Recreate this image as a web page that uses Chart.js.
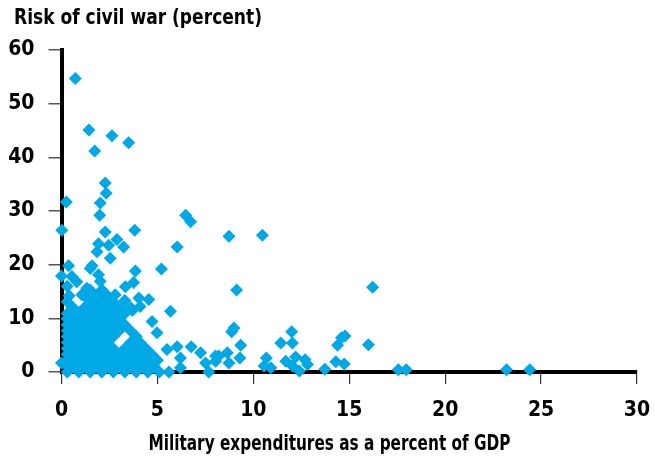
<!DOCTYPE html>
<html>
<head>
<meta charset="utf-8">
<script src="https://cdn.jsdelivr.net/npm/chart.js@4.4.0/dist/chart.umd.min.js"></script>
<style>
  body { margin: 0; background: #fff; }
  #wrap { width: 655px; height: 456px; position: relative; }
</style>
</head>
<body>
<div id="wrap"><canvas id="graficoGuerra"></canvas></div>
<script>
// puntos dispersos (gasto militar % PIB, riesgo %)
const scatterX = [0.72, 1.43, 2.63, 1.73, 3.5, 2.28, 2.33, 2.02, 0.25, 1.99, 6.47, 6.73, 0.02, 3.82, 2.28,
  8.73, 10.47, 2.89, 1.93, 2.46, 3.24, 6.03, 1.85, 2.54, 0.37, 1.59, 1.5, 0.0, 3.85, 5.21, 0.54, 1.93, 2.02,
  0.8, 3.76, 3.33, 2.11, 1.32, 9.13, 16.22, 1.06, 2.8, 4.03, 4.55, 5.68, 4.72, 4.98, 8.99, 8.87, 12.0, 11.43,
  12.04, 14.78, 14.6, 14.39, 16.0, 9.34, 6.76, 6.03, 5.5, 7.25, 8.03, 8.2, 8.64, 8.03, 8.73, 7.51, 7.68, 9.3,
  10.68, 10.56, 10.91, 11.69, 12.2, 12.7, 12.04, 12.4, 12.82, 13.73, 14.3, 14.74, 6.2, 6.2, 17.56, 17.97,
  23.2, 24.41, 0.0];
const scatterY = [54.7, 45.1, 44.0, 41.2, 42.7, 35.2, 33.3, 31.5, 31.7, 29.2, 29.2, 28.0, 26.4, 26.4, 26.1,
  25.3, 25.5, 24.7, 23.9, 23.6, 23.3, 23.3, 22.4, 21.2, 19.8, 19.8, 19.3, 17.9, 18.8, 19.2, 17.8, 18.1, 16.9,
  16.8, 16.7, 15.9, 15.3, 15.6, 15.3, 15.8, 14.4, 14.4, 13.8, 13.5, 11.3, 9.4, 7.3, 8.2, 7.5, 7.5, 5.4,
  5.4, 6.7, 6.4, 5.0, 5.1, 5.0, 4.7, 4.7, 4.2, 3.6, 3.0, 3.0, 3.6, 2.0, 1.7, 1.7, 0.0, 2.6,
  2.6, 1.1, 0.8, 2.0, 2.8, 2.3, 1.1, 0.2, 1.4, 0.5, 1.9, 1.5, 2.6, 0.8, 0.4, 0.4,
  0.4, 0.4, 1.7];

// masa densa de puntos cerca del origen (estimada)
const clusterX = [0.3, 0.9, 1.5, 2.1, 2.7, 3.3, 3.9, 4.5, 5.1, 5.6,
  0.3, 0.6, 1.2, 1.8, 2.4, 3.0, 3.6, 4.2, 4.8,
  0.3, 0.9, 1.5, 2.1, 2.7, 3.3, 3.9, 4.5, 5.0,
  0.3, 0.6, 1.2, 1.8, 2.4, 3.0, 3.6, 4.2, 4.7,
  0.3, 0.9, 1.5, 2.1, 2.7, 3.3, 3.9, 4.4,
  0.3, 0.6, 1.2, 1.8, 2.4, 3.6, 4.1,
  0.3, 0.9, 1.5, 2.1, 2.7, 3.9,
  0.3, 0.6, 1.2, 1.8, 2.4, 3.0, 3.6,
  0.3, 0.9, 1.5, 2.1, 2.7, 3.3,
  0.3, 0.6, 1.2, 1.8, 2.4, 3.0,
  0.3, 0.9, 1.5, 2.1, 2.7, 3.3, 3.7,
  0.6, 1.2, 1.8, 2.4, 3.0, 3.6, 4.1,
  0.3, 1.5, 2.1, 2.7, 3.3,
  0.4, 1.2, 1.8, 2.4,
  1.5, 2.1, 0.3];
const clusterY = [0, 0, 0, 0, 0, 0, 0, 0, 0, 0,
  1.1, 1.1, 1.1, 1.1, 1.1, 1.1, 1.1, 1.1, 1.1,
  2.2, 2.2, 2.2, 2.2, 2.2, 2.2, 2.2, 2.2, 2.2,
  3.3, 3.3, 3.3, 3.3, 3.3, 3.3, 3.3, 3.3, 3.3,
  4.4, 4.4, 4.4, 4.4, 4.4, 4.4, 4.4, 4.4,
  5.5, 5.5, 5.5, 5.5, 5.5, 5.5, 5.5,
  6.6, 6.6, 6.6, 6.6, 6.6, 6.6,
  7.7, 7.7, 7.7, 7.7, 7.7, 7.7, 7.7,
  8.8, 8.8, 8.8, 8.8, 8.8, 8.8,
  9.9, 9.9, 9.9, 9.9, 9.9, 9.9,
  10.9, 10.9, 10.9, 10.9, 10.9, 10.9, 11.5,
  12.0, 12.0, 12.0, 12.0, 12.0, 12.0, 12.2,
  13.1, 13.1, 13.1, 13.1, 13.3,
  14.2, 14.2, 14.2, 14.2,
  15.3, 15.3, 16.0];

const xTicks = [0, 5, 10, 15, 20, 25, 30];
const yTicks = [0, 10, 20, 30, 40, 50, 60];

const fuente = "'DejaVu Sans Condensed', 'DejaVu Sans', sans-serif";
const azul = '#00a9e6';

const puntos = scatterX.map((x, i) => ({ x: x, y: scatterY[i] }))
  .concat(clusterX.map((x, i) => ({ x: x, y: clusterY[i] })));

// texto estrecho (fuente condensada simulada con escala horizontal)
function textoEstrecho(c, texto, size, x, y, ancho, align) {
  c.save();
  c.font = 'bold ' + size + 'px ' + fuente;
  c.fillStyle = '#000';
  c.textBaseline = 'alphabetic';
  c.textAlign = 'left';
  const w = c.measureText(texto).width;
  const k = ancho / w;
  const x0 = align === 'center' ? x - ancho / 2 : x;
  c.translate(x0, y);
  c.scale(k, 1);
  c.fillText(texto, 0, 0);
  c.restore();
}

// titulo arriba a la izquierda y titulo del eje x
const titulosPlugin = {
  id: 'titulos',
  afterDraw(chart) {
    const c = chart.ctx;
    textoEstrecho(c, 'Risk of civil war (percent)', 21, 14, 23.5, 248, 'left');
    textoEstrecho(c, 'Military expenditures as a percent of GDP', 22, 329.5, 449.5, 362, 'center');
  }
};

const ctx = document.getElementById('graficoGuerra').getContext('2d');
new Chart(ctx, {
  type: 'scatter',
  data: {
    datasets: [{
      label: 'Risk of civil war',
      data: puntos,
      pointStyle: 'rectRot',
      pointRadius: 6.5,
      backgroundColor: azul,
      borderColor: azul,
      borderWidth: 0,
      clip: false
    }]
  },
  options: {
    responsive: true,
    maintainAspectRatio: false,
    animation: false,
    layout: { padding: { top: 50, right: 18, left: 0, bottom: 0 } },
    plugins: {
      legend: { display: false },
      tooltip: { enabled: false }
    },
    scales: {
      x: {
        type: 'linear',
        min: 0,
        max: 30,
        z: 1,
        afterBuildTicks: s => { s.ticks = xTicks.map(v => ({ value: v })); },
        afterFit: s => { s.height = 84; s.paddingLeft = 0; s.paddingRight = 0; },
        border: { display: true, color: '#000', width: 4 },
        grid: { drawOnChartArea: false, drawTicks: true, tickLength: 12, color: '#333', lineWidth: 1.2 },
        ticks: { color: '#000', padding: 14, font: { family: fuente, size: 21, weight: 'bold' } }
      },
      y: {
        type: 'linear',
        min: 0,
        max: 60,
        z: 1,
        afterBuildTicks: s => { s.ticks = yTicks.map(v => ({ value: v })); },
        afterFit: s => { s.width = 61.5; s.paddingTop = 0; s.paddingBottom = 0; },
        border: { display: true, color: '#000', width: 4 },
        grid: { drawOnChartArea: false, drawTicks: true, tickLength: 13, color: '#555', lineWidth: 1.5 },
        ticks: { color: '#000', padding: 14, font: { family: fuente, size: 21, weight: 'bold' } }
      }
    }
  },
  plugins: [titulosPlugin]
});
</script>
</body>
</html>
